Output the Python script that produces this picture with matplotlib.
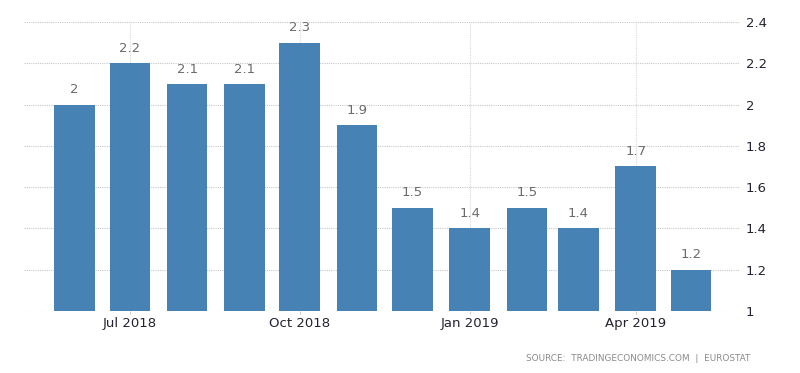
import matplotlib
matplotlib.use("Agg")
import matplotlib.pyplot as plt
import matplotlib.dates as mdates
import numpy as np
import datetime as dt

months = ["2018-06", "2018-07", "2018-08", "2018-09", "2018-10", "2018-11",
          "2018-12", "2019-01", "2019-02", "2019-03", "2019-04", "2019-05"]
values = [2.0, 2.2, 2.1, 2.1, 2.3, 1.9, 1.5, 1.4, 1.5, 1.4, 1.7, 1.2]
value_labels = ["2", "2.2", "2.1", "2.1", "2.3", "1.9", "1.5", "1.4", "1.5", "1.4", "1.7", "1.2"]
xtick_dates = ["2018-07", "2018-10", "2019-01", "2019-04"]
xtick_labels = ["Jul 2018", "Oct 2018", "Jan 2019", "Apr 2019"]
yticks = [1, 1.2, 1.4, 1.6, 1.8, 2, 2.2, 2.4]
ytick_labels = ["1", "1.2", "1.4", "1.6", "1.8", "2", "2.2", "2.4"]
source = "SOURCE:  TRADINGECONOMICS.COM  |  EUROSTAT"

def to_date(s):
    y, m = s.split("-")
    return dt.date(int(y), int(m), 1)

dates = [to_date(m) for m in months]
xnum = mdates.date2num(dates)

fig = plt.figure(figsize=(8, 3.73), dpi=100)
ax = fig.add_axes([0.03, 0.1662, 0.895, 0.775])

bar_color = "#4682B4"
ax.bar(xnum, np.array(values) - 1, bottom=1, width=22, color=bar_color, zorder=3)

for x, v, lab in zip(xnum, values, value_labels):
    ax.annotate(lab, (x, v), xytext=(0, 6), textcoords="offset points",
                ha="center", va="bottom", fontsize=9.5, color="#6b6b6b")

ax.set_ylim(1, 2.4)
ax.set_xlim(xnum[0] - 27.4, xnum[-1] + 26.5)

ax.yaxis.tick_right()
ax.set_yticks(yticks)
ax.set_yticklabels(ytick_labels)
xt = mdates.date2num([to_date(d) for d in xtick_dates])
ax.set_xticks(xt)
ax.set_xticklabels(xtick_labels)

ax.tick_params(axis="y", length=0, pad=4, labelsize=9.5, labelcolor="#222233")
ax.tick_params(axis="x", length=2, color="#cccccc", pad=2.5, labelsize=9.5, labelcolor="#222233")

for s in ax.spines.values():
    s.set_visible(False)

ax.grid(True, axis="y", linestyle=(0, (1, 1)), color="#c8c8c8", linewidth=0.8, zorder=0)
ax.grid(True, axis="x", linestyle=(0, (1, 1)), color="#d8d8d8", linewidth=0.8, zorder=0)
ax.set_axisbelow(True)

fig.text(0.938, 0.027, source, ha="right", va="bottom", fontsize=6.4, color="#8a8a8a")

fig.savefig("out.png", dpi=100)
